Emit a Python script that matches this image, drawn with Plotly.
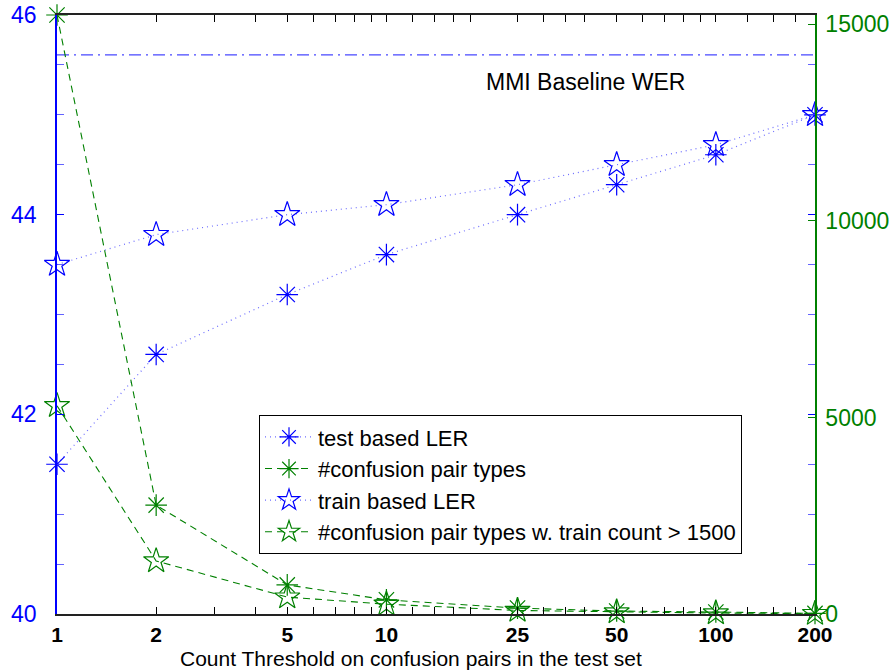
import math
import plotly.graph_objects as go

# ---- data ----
thresholds = [1, 2, 5, 10, 25, 50, 100, 200]
tick_labels = ["1", "2", "5", "10", "25", "50", "100", "200"]
test_ler = [41.5, 42.6, 43.2, 43.6, 44.0, 44.3, 44.6, 45.0]
train_ler = [43.5, 43.8, 44.0, 44.1, 44.3, 44.5, 44.7, 45.0]
pair_types = [15240, 2770, 740, 360, 150, 75, 50, 15]
pair_types_1500 = [5300, 1350, 430, 250, 90, 50, 25, 10]
baseline_wer = 45.6
left_ticks = [40, 42, 44, 46]
left_tick_labels = ["40", "42", "44", "46"]
right_ticks = [0, 5000, 10000, 15000]
right_tick_labels = ["0", "5000", "10000", "15000"]
x_minor = [3, 4, 6, 7, 8, 9, 12, 14, 16, 18, 30, 35, 40, 60, 70, 80, 90, 125, 150, 175]

BLUE = "#0000ff"
GREEN = "#008000"
FONT = "Liberation Sans, Arial, Helvetica, sans-serif"

fig = go.Figure()

# baseline
fig.add_trace(go.Scatter(
    x=[thresholds[0], thresholds[-1]], y=[baseline_wer, baseline_wer],
    mode="lines", line=dict(color="rgba(40,40,255,0.85)", width=1.2, dash="12px,5px,2px,5px"),
    showlegend=False, hoverinfo="skip", yaxis="y"))

fig.add_trace(go.Scatter(
    x=thresholds, y=test_ler, name="test based LER", yaxis="y",
    mode="lines+markers", cliponaxis=False,
    line=dict(color="rgba(60,60,255,0.75)", width=1.2, dash="1px,4px"),
    marker=dict(symbol="asterisk-open", size=18, color=BLUE, line=dict(color=BLUE, width=1.2))))

fig.add_trace(go.Scatter(
    x=thresholds, y=pair_types, name="#confusion pair types", yaxis="y2",
    mode="lines+markers", cliponaxis=False,
    line=dict(color=GREEN, width=1.1, dash="7px,5px"),
    marker=dict(symbol="asterisk-open", size=18, color=GREEN, line=dict(color=GREEN, width=1.2))))

fig.add_trace(go.Scatter(
    x=thresholds, y=train_ler, name="train based LER", yaxis="y",
    mode="lines+markers", cliponaxis=False,
    line=dict(color="rgba(60,60,255,0.75)", width=1.2, dash="1px,4px"),
    marker=dict(symbol="star-open", size=19, color=BLUE, line=dict(color=BLUE, width=1.2))))

fig.add_trace(go.Scatter(
    x=thresholds, y=pair_types_1500, name="#confusion pair types w. train count > 1500", yaxis="y2",
    mode="lines+markers", cliponaxis=False,
    line=dict(color=GREEN, width=1.1, dash="7px,5px"),
    marker=dict(symbol="star-open", size=19, color=GREEN, line=dict(color=GREEN, width=1.2))))

fig.update_layout(
    width=889, height=672,
    margin=dict(l=57, r=74, t=15, b=58, pad=0, autoexpand=False),
    plot_bgcolor="white", paper_bgcolor="white",
    font=dict(family=FONT, size=22, color="black"),
    xaxis=dict(
        type="log", range=[math.log10(thresholds[0]), math.log10(thresholds[-1])],
        tickmode="array", tickvals=thresholds, ticktext=tick_labels,
        ticks="inside", ticklen=7, tickcolor="black", tickwidth=1,
        tickfont=dict(family=FONT, size=21, color="black", weight="bold"),
        showline=True, linecolor="#222222", linewidth=2, mirror="allticks",
        showgrid=False, zeroline=False, ticklabelstandoff=1, automargin=False,
        ticklabeloverflow="allow",
        minor=dict(tickvals=x_minor, ticks="inside", ticklen=5, tickcolor="black", showgrid=False),
    ),
    yaxis=dict(
        range=[40, 46], tickmode="array", tickvals=left_ticks, ticktext=left_tick_labels,
        ticks="inside", ticklen=7, tickcolor=BLUE, tickwidth=1,
        tickfont=dict(family=FONT, size=23, color=BLUE),
        showline=True, linecolor=BLUE, linewidth=1.5, mirror="allticks",
        showgrid=False, zeroline=False, ticklabelstandoff=14, automargin=False,
        ticklabeloverflow="allow",
        minor=dict(dtick=0.5, tick0=40, ticks="inside", ticklen=7, tickcolor="rgba(60,60,255,0.8)", showgrid=False),
    ),
    yaxis2=dict(
        range=[0, pair_types[0]], overlaying="y", side="right",
        tickmode="array", tickvals=right_ticks, ticktext=right_tick_labels,
        ticks="inside", ticklen=7, tickcolor=GREEN, tickwidth=1,
        tickfont=dict(family=FONT, size=23, color=GREEN),
        showline=True, linecolor=GREEN, linewidth=1.5,
        showgrid=False, zeroline=False, ticklabelstandoff=4, automargin=False,
        ticklabeloverflow="allow",
    ),
    legend=dict(
        x=0.2665, y=0.332, xanchor="left", yanchor="top",
        bgcolor="white", bordercolor="black", borderwidth=1,
        font=dict(family=FONT, size=22, color="black"),
        tracegroupgap=0, itemwidth=48,
    ),
    annotations=[
        dict(text="MMI Baseline WER", xref="paper", yref="paper", x=0.6966, y=0.888,
             xanchor="center", yanchor="middle", showarrow=False,
             font=dict(family=FONT, size=23, color="black")),
        dict(text="Count Threshold on confusion pairs in the test set", xref="paper", yref="paper",
             x=0.467, y=-0.0735, xanchor="center", yanchor="middle", showarrow=False,
             font=dict(family=FONT, size=21, color="black")),
    ],
)

# remove the default 8px page margin so the figure fills the window exactly
fig.write_html("out.html", config={"displayModeBar": False},
               post_script="document.body.style.margin='0';document.body.style.overflow='hidden';")
